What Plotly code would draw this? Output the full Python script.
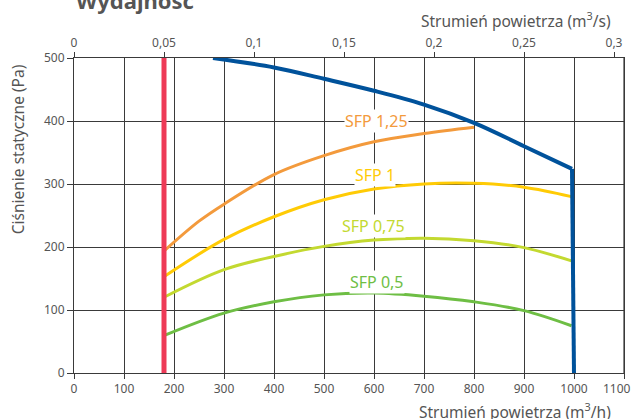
import plotly.graph_objects as go

# ---- data (airflow m3/h, static pressure Pa) ----
fan_x = [278, 400, 500, 600, 700, 800, 900, 996]
fan_y = [500, 485, 467, 448, 426, 397, 360, 324]
fan_drop_x = [996, 1000]
fan_drop_y = [324, 0]

min_flow = 180
min_flow_y = [0, 500]

sfp125_x = [182, 250, 300, 400, 500, 600, 700, 800]
sfp125_y = [195, 241, 268, 315, 345, 367, 380, 390]

sfp1_x = [182, 300, 400, 500, 600, 700, 800, 900, 995]
sfp1_y = [154, 212, 248, 275, 292, 300, 301, 295, 280]

sfp075_x = [182, 300, 400, 500, 600, 700, 800, 900, 995]
sfp075_y = [121, 164, 185, 201, 211, 214, 210, 199, 178]

sfp05_x = [182, 300, 400, 500, 600, 700, 800, 900, 995]
sfp05_y = [60, 95, 113, 124, 127, 122, 113, 99, 75]

labels = ["SFP 1,25", "SFP 1", "SFP 0,75", "SFP 0,5"]
label_x = [604, 601, 598, 605]
label_y = [400, 314, 234, 145]

x_ticks = list(range(0, 1101, 100))
x_tick_text = [str(v) for v in x_ticks[:-1]] + [""]
last_x_label = "1100"
y_ticks = list(range(0, 501, 100))
top_ticks = [0, 0.05, 0.1, 0.15, 0.2, 0.25, 0.3]
top_tick_text = ["0", "0,05", "0,1", "0,15", "0,2", "0,25", "0,3"]

colors = ["#f39a3c", "#ffcb05", "#c3d930", "#6ebe44"]
BLUE = "#00529b"
RED = "#ee3a57"
GRID = "#3a3a3a"
TXT = "#555555"
FONT = "Noto Sans"

fig = go.Figure()

for xs, ys, c in [(sfp125_x, sfp125_y, colors[0]), (sfp1_x, sfp1_y, colors[1]),
                  (sfp075_x, sfp075_y, colors[2]), (sfp05_x, sfp05_y, colors[3])]:
    fig.add_trace(go.Scatter(x=xs, y=ys, mode="lines",
                             line=dict(color=c, width=3, shape="spline", smoothing=1.0),
                             hoverinfo="skip", showlegend=False))

fig.add_trace(go.Scatter(x=[min_flow, min_flow], y=min_flow_y, mode="lines",
                         line=dict(color=RED, width=5), showlegend=False))

fig.add_trace(go.Scatter(x=fan_x, y=fan_y, mode="lines",
                         line=dict(color=BLUE, width=4, shape="spline", smoothing=1.0),
                         showlegend=False))
fig.add_trace(go.Scatter(x=fan_drop_x, y=fan_drop_y, mode="lines",
                         line=dict(color=BLUE, width=4), showlegend=False))

# invisible trace on the top axis
fig.add_trace(go.Scatter(x=[0, 0.3], y=[0, 0], xaxis="x2", mode="markers",
                         marker=dict(opacity=0, size=1), hoverinfo="skip", showlegend=False))

for t, lx, ly, c in zip(labels, label_x, label_y, colors):
    fig.add_annotation(x=lx, y=ly, text=t, showarrow=False,
                       font=dict(family=FONT, size=16, color=c),
                       bgcolor="white", borderpad=0)

# right border of the plot (paper-referenced so it is not clipped)
fig.add_shape(type="line", xref="paper", yref="paper", x0=1, x1=1, y0=0, y1=1,
              line=dict(color=GRID, width=1.2))

axis_font = dict(family=FONT, size=12, color=TXT)
fig.add_annotation(xref="x", yref="paper", x=1100, xshift=-7, y=0, yshift=-5,
                   yanchor="top", text=last_x_label, showarrow=False, font=axis_font)

fig.add_annotation(xref="paper", yref="paper", x=0.0, y=1.185, xanchor="left",
                   yanchor="middle", text="<b>Wydajność</b>", showarrow=False,
                   font=dict(family=FONT, size=22, color=TXT))
fig.add_annotation(xref="paper", yref="paper", x=0.98, y=1.12, xanchor="right",
                   yanchor="middle", text="Strumień powietrza (m<sup>3</sup>/s)",
                   showarrow=False, font=dict(family=FONT, size=15.5, color=TXT))
fig.add_annotation(xref="paper", yref="paper", x=0.98, y=-0.12, xanchor="right",
                   yanchor="middle", text="Strumień powietrza (m<sup>3</sup>/h)",
                   showarrow=False, font=dict(family=FONT, size=15.5, color=TXT))
fig.add_annotation(xref="paper", yref="paper", x=-0.102, y=0.71, xanchor="center",
                   yanchor="middle", text="Ciśnienie statyczne (Pa)", textangle=-90,
                   showarrow=False, font=dict(family=FONT, size=15.5, color=TXT))

fig.update_layout(
    width=631, height=419,
    margin=dict(l=74, r=7, t=58, b=46),
    paper_bgcolor="white", plot_bgcolor="white",
    showlegend=False,
    xaxis=dict(range=[0, 1100], tickvals=x_ticks, ticktext=x_tick_text,
               showgrid=True, gridcolor=GRID,
               gridwidth=1, showline=True, linecolor=GRID, linewidth=1, mirror=True,
               ticks="outside", ticklen=5, tickcolor=GRID, tickfont=axis_font,
               zeroline=False, fixedrange=True),
    xaxis2=dict(range=[0, 1100 / 3600], overlaying="x", side="top",
                tickvals=top_ticks, ticktext=top_tick_text, showgrid=False,
                ticks="outside", ticklen=5, tickcolor=GRID, tickfont=axis_font,
                zeroline=False, showline=False),
    yaxis=dict(range=[0, 500], tickvals=y_ticks, showgrid=True, gridcolor=GRID,
               gridwidth=1, showline=True, linecolor=GRID, linewidth=1, mirror=True,
               ticks="outside", ticklen=6, tickcolor=GRID, tickfont=axis_font,
               zeroline=False),
)

fig.write_html("out.html", config={"displayModeBar": False},
               post_script="document.body.style.margin='0';document.body.style.overflow='hidden';")
